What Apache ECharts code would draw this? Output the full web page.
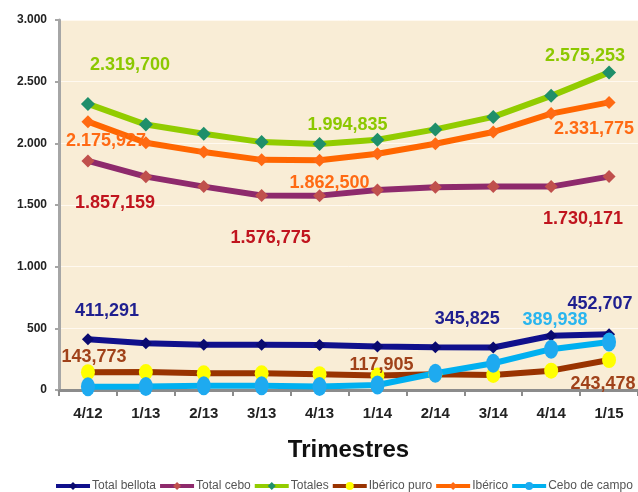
<!DOCTYPE html>
<html>
<head>
<meta charset="utf-8">
<script src="https://cdn.jsdelivr.net/npm/echarts@6/dist/echarts.min.js"></script>
<style>html,body{margin:0;padding:0;background:#fff;}#chart{width:638px;height:492px;}</style>
</head>
<body>
<div id="chart"></div>
<script>
// valores en miles de cabezas
var trimestres = ['4/12','1/13','2/13','3/13','4/13','1/14','2/14','3/14','4/14','1/15'];
var totalBellota = [411.291, 380, 367, 367, 365, 353, 345.825, 345, 440, 452.707];
var totalCebo = [1857.159, 1730, 1649, 1576.775, 1576, 1622, 1644, 1649, 1649, 1730.171];
var totales = [2319.700, 2152, 2078, 2010, 1994.835, 2029, 2113, 2214, 2385, 2575.253];
var ibericoPuro = [143.773, 145, 135, 135, 128, 117.905, 128, 122, 157, 243.478];
var iberico = [2175.927, 2005, 1929, 1866, 1862.500, 1915, 1997, 2092, 2241, 2331.775];
var ceboCampo = [27, 28, 35, 35, 28, 41, 136, 217, 331, 389.938];
var yTicks = [0, 500, 1000, 1500, 2000, 2500, 3000];

var FN = "'Liberation Sans',Arial,sans-serif";

function fmt(v, dec){
    var s = v.toFixed(dec), p = s.split('.');
    var ent = p[0].replace(/\B(?=(\d{3})+(?!\d))/g, '.');
    return dec ? ent + ',' + p[1] : ent;
}

// etiquetas: indice, posicion, desplazamiento
function mk(vals, col, labs){
    return vals.map(function(v, i){
        var o = {value: v};
        labs.forEach(function(l){
            if(l[0] === i) o.label = {show:true, position:l[1], offset:l[2], color:col,
                fontFamily:FN, fontWeight:'bold', fontSize:18, formatter:function(p){return fmt(p.value,3);}};
        });
        return o;
    });
}

function serie(name, vals, lineCol, symCol, sym, size, labCol, labs){
    return {name:name, type:'line', data:mk(vals, labCol, labs), symbol:sym, symbolSize:size,
        lineStyle:{color:lineCol, width:6}, itemStyle:{color:symCol, borderWidth:0},
        color:lineCol, label:{show:false}, emphasis:{disabled:true}, animation:false, z:2};
}

var chart = echarts.init(document.getElementById('chart'));
chart.setOption({
    backgroundColor:'#ffffff',
    grid:{left:59, right:0, top:20, bottom:102, show:true, backgroundColor:'#f9edd6', borderWidth:0},
    legend:{left:54, top:478, width:600, itemWidth:34, itemHeight:10, itemGap:2, padding:[2,0,0,0],
        lineStyle:{width:4},
        textStyle:{fontFamily:FN, fontSize:12, color:'#555', padding:[0,0,0,-3]},
        data:['Total bellota','Total cebo','Totales','Ibérico puro','Ibérico','Cebo de campo']},
    xAxis:{type:'category', data:trimestres, boundaryGap:true,
        name:'Trimestres', nameLocation:'middle', nameGap:48,
        nameTextStyle:{fontFamily:FN, fontWeight:'bold', fontSize:24, color:'#111'},
        axisLine:{lineStyle:{color:'#8c8c8c', width:3}},
        axisTick:{show:true, length:6, lineStyle:{color:'#8c8c8c', width:2}},
        axisLabel:{margin:16, fontFamily:FN, fontWeight:'bold', fontSize:15, color:'#222'}},
    yAxis:{type:'value', min:0, max:3000, interval:500,
        axisLine:{show:true, lineStyle:{color:'#a6a6a6', width:3}},
        axisTick:{show:true, length:4, lineStyle:{color:'#a6a6a6', width:2}},
        splitLine:{lineStyle:{color:'#fff9f0', width:1}},
        axisLabel:{margin:12, fontFamily:FN, fontWeight:'bold', fontSize:12, color:'#222',
            formatter:function(v){return yTicks.indexOf(v) >= 0 ? fmt(v,0) : '';}}},
    series:[
        serie('Total bellota', totalBellota, '#10108c', '#0a0a70', 'diamond', 12, '#1f1f8f',
            [[0,'top',[19,-8]],[6,'top',[32,-8]],[9,'top',[-9,-10]]]),
        serie('Total cebo', totalCebo, '#8e2a6c', '#c0504d', 'diamond', 13, '#c0141e',
            [[0,'bottom',[27,22]],[3,'bottom',[9,22]],[9,'bottom',[-26,22]]]),
        serie('Totales', totales, '#92cc00', '#1f8f6a', 'diamond', 14, '#8cc800',
            [[0,'top',[42,-18]],[4,'top',[28,2]],[9,'top',[-24,5]]]),
        serie('Ibérico puro', ibericoPuro, '#993300', '#ffff00', 'circle', [14,16], '#a0421a',
            [[0,'top',[6,7]],[5,'top',[4,12]],[9,'bottom',[-6,2]]]),
        serie('Ibérico', iberico, '#ff6600', '#ff6a13', 'diamond', 13, '#ff6a13',
            [[0,'bottom',[18,-1]],[4,'bottom',[10,2]],[9,'bottom',[-15,6]]]),
        serie('Cebo de campo', ceboCampo, '#00b0f0', '#1eaaf0', 'circle', [14,19], '#29b5ee',
            [[9,'top',[-54,2]]])
    ]
});
</script>
</body>
</html>
